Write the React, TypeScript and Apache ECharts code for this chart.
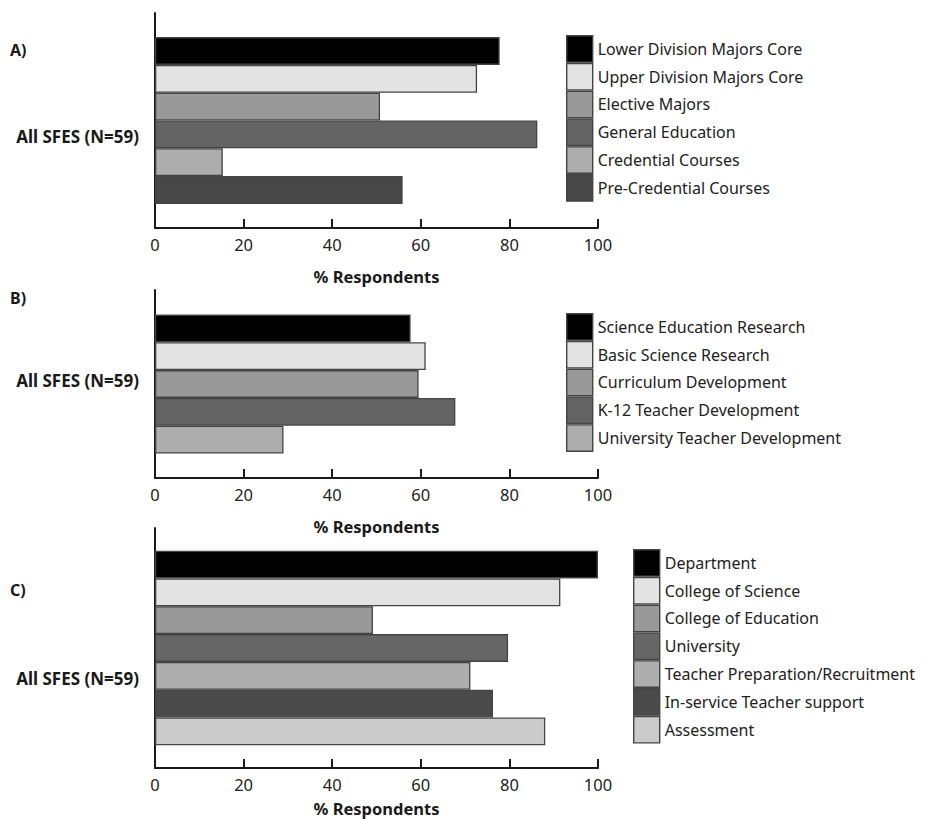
import React, { useEffect, useRef } from "react";
import * as echarts from "echarts";

const categoryLabel = "All SFES (N=59)";
const panelLetters = ["A)", "B)", "C)"];
const xAxisName = "% Respondents";

const panelANames = [
  "Lower Division Majors Core",
  "Upper Division Majors Core",
  "Elective Majors",
  "General Education",
  "Credential Courses",
  "Pre-Credential Courses",
];
const panelAValues = [77.8, 72.7, 50.8, 86.3, 15.3, 55.9];
const panelAColors = ["#000000", "#e3e3e3", "#999999", "#636363", "#adadad", "#474747"];

const panelBNames = [
  "Science Education Research",
  "Basic Science Research",
  "Curriculum Development",
  "K-12 Teacher Development",
  "University Teacher Development",
];
const panelBValues = [57.7, 61.1, 59.5, 67.8, 29.0];
const panelBColors = ["#000000", "#e3e3e3", "#999999", "#636363", "#adadad"];

const panelCNames = [
  "Department",
  "College of Science",
  "College of Education",
  "University",
  "Teacher Preparation/Recruitment",
  "In-service Teacher support",
  "Assessment",
];
const panelCValues = [100, 91.5, 49.2, 79.7, 71.2, 76.3, 88.1];
const panelCColors = ["#000000", "#e3e3e3", "#999999", "#666666", "#adadad", "#4a4a4a", "#cbcbcb"];

const FONT = "'Noto Sans', 'Open Sans', sans-serif";

export default function App() {
  const ref = useRef<HTMLDivElement>(null);

  useEffect(() => {
    if (!ref.current) return;
    const chart = echarts.init(ref.current, undefined, { renderer: "svg" });

    const panels = [
      { names: panelANames, values: panelAValues, colors: panelAColors, grid: { left: 155, top: 13, width: 443, height: 215 }, legend: { left: 566, top: 35 }, letterY: 52, labelY: 136, nameGap: 40 },
      { names: panelBNames, values: panelBValues, colors: panelBColors, grid: { left: 155, top: 290, width: 443, height: 188 }, legend: { left: 566, top: 313 }, letterY: 300, labelY: 380, nameGap: 40 },
      { names: panelCNames, values: panelCValues, colors: panelCColors, grid: { left: 155, top: 528, width: 443, height: 240 }, legend: { left: 633, top: 549 }, letterY: 592, labelY: 678, nameGap: 32 },
    ];

    const axisLineStyle = { color: "#1a1a1a", width: 2 };
    const borderColor = "#444444";

    const series: any[] = [];
    panels.forEach((p, pi) => {
      p.names.forEach((name, i) => {
        series.push({
          type: "bar",
          name,
          xAxisIndex: pi,
          yAxisIndex: pi,
          data: [p.values[i]],
          barWidth: 27.8,
          barGap: "0%",
          itemStyle: { color: p.colors[i], borderColor, borderWidth: 1.3 },
          emphasis: { disabled: true },
        });
      });
    });

    const graphic: any[] = [];
    panels.forEach((p, pi) => {
      graphic.push({
        type: "text",
        left: 10,
        top: p.letterY - 10,
        style: { text: panelLetters[pi], font: `bold 16px ${FONT}`, fill: "#1a1a1a" },
      });
      graphic.push({
        type: "text",
        x: 139,
        y: p.labelY,
        style: { text: categoryLabel, font: `bold 17px ${FONT}`, fill: "#1a1a1a", align: "right", verticalAlign: "middle" },
      });
    });

    chart.setOption({
      animation: false,
      backgroundColor: "#ffffff",
      textStyle: { fontFamily: FONT },
      grid: panels.map((p) => ({ ...p.grid, containLabel: false })),
      xAxis: panels.map((p, pi) => ({
        type: "value",
        gridIndex: pi,
        min: 0,
        max: 100,
        interval: 20,
        axisLine: { show: true, lineStyle: axisLineStyle },
        axisTick: { show: true, inside: true, length: 9, lineStyle: axisLineStyle },
        splitLine: { show: false },
        axisLabel: { fontSize: 16.5, color: "#222222", margin: 8, fontFamily: FONT },
        name: xAxisName,
        nameLocation: "middle",
        nameGap: p.nameGap,
        nameTextStyle: { fontSize: 16.5, fontWeight: "bold", color: "#1a1a1a", fontFamily: FONT },
      })),
      yAxis: panels.map((_, pi) => ({
        type: "category",
        gridIndex: pi,
        data: [categoryLabel],
        inverse: true,
        axisLine: { show: true, lineStyle: axisLineStyle },
        axisTick: { show: false },
        axisLabel: { show: false },
        splitLine: { show: false },
      })),
      legend: panels.map((p) => ({
        data: p.names,
        left: p.legend.left,
        top: p.legend.top,
        orient: "vertical",
        icon: "rect",
        itemWidth: 26,
        itemHeight: 26.4,
        itemGap: 0,
        padding: 0,
        selectedMode: false,
        itemStyle: { borderColor, borderWidth: 1.4 },
        textStyle: { fontSize: 16, color: "#222222", fontFamily: FONT, lineHeight: 20 },
      })),
      series,
      graphic,
    });

    return () => chart.dispose();
  }, []);

  return (
    <div
      ref={ref}
      style={{ position: "absolute", left: 0, top: 0, width: 925, height: 819, background: "#ffffff" }}
    />
  );
}
